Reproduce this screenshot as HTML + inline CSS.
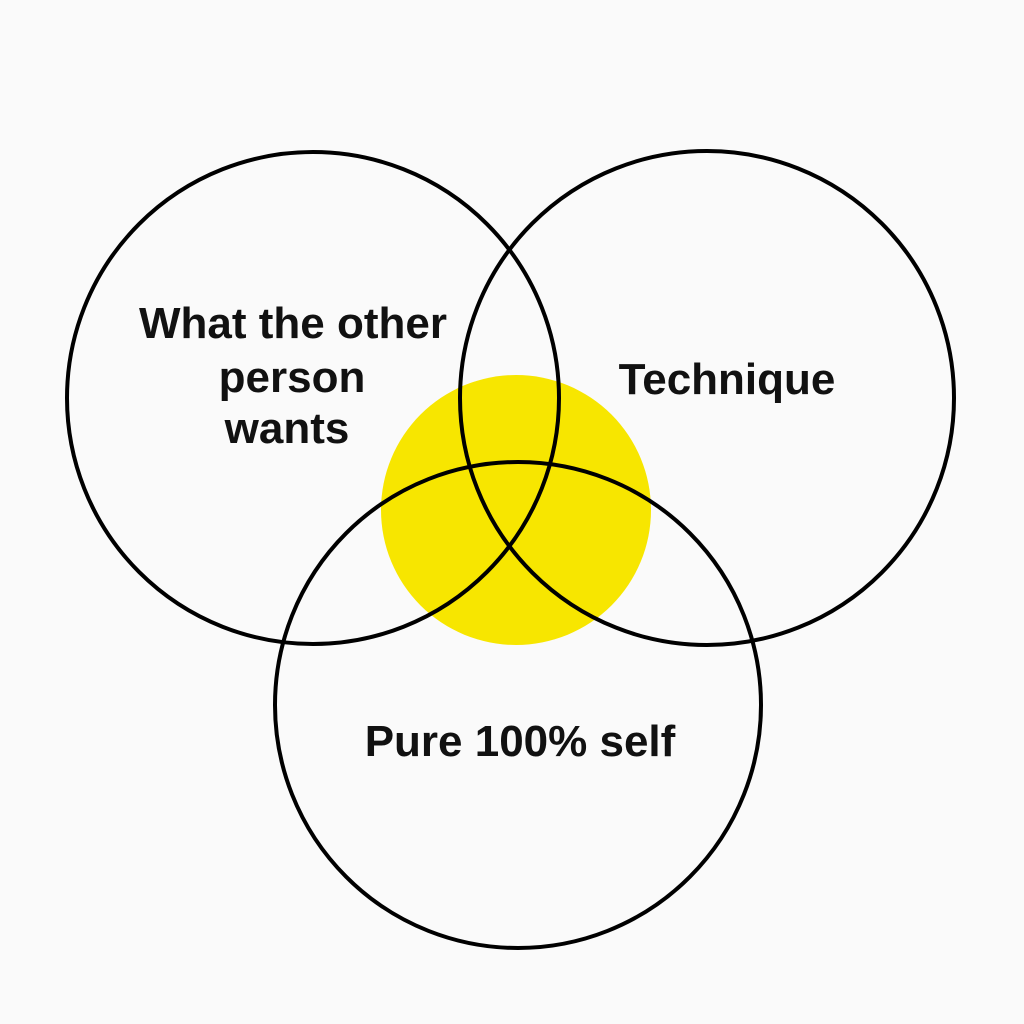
<!DOCTYPE html>
<html><head><meta charset="utf-8"><style>
html,body{margin:0;padding:0;background:#fafafa;}
svg{display:block}
text{font-family:"Liberation Sans",Arial,sans-serif;font-weight:bold;font-size:44px;fill:#111;text-anchor:middle}
</style></head><body>
<svg width="1024" height="1024" viewBox="0 0 1024 1024">
<rect width="1024" height="1024" fill="#fafafa"/>
<circle cx="516" cy="510" r="135" fill="#f7e600"/>
<g fill="none" stroke="#000" stroke-width="4">
<circle cx="313" cy="398" r="246"/>
<circle cx="707" cy="398" r="247"/>
<circle cx="518" cy="705" r="243"/>
</g>
<text x="293" y="338">What the other</text>
<text x="292" y="392">person</text>
<text x="287" y="443">wants</text>
<text x="727" y="394">Technique</text>
<text x="520" y="756">Pure 100% self</text>
</svg>
</body></html>
